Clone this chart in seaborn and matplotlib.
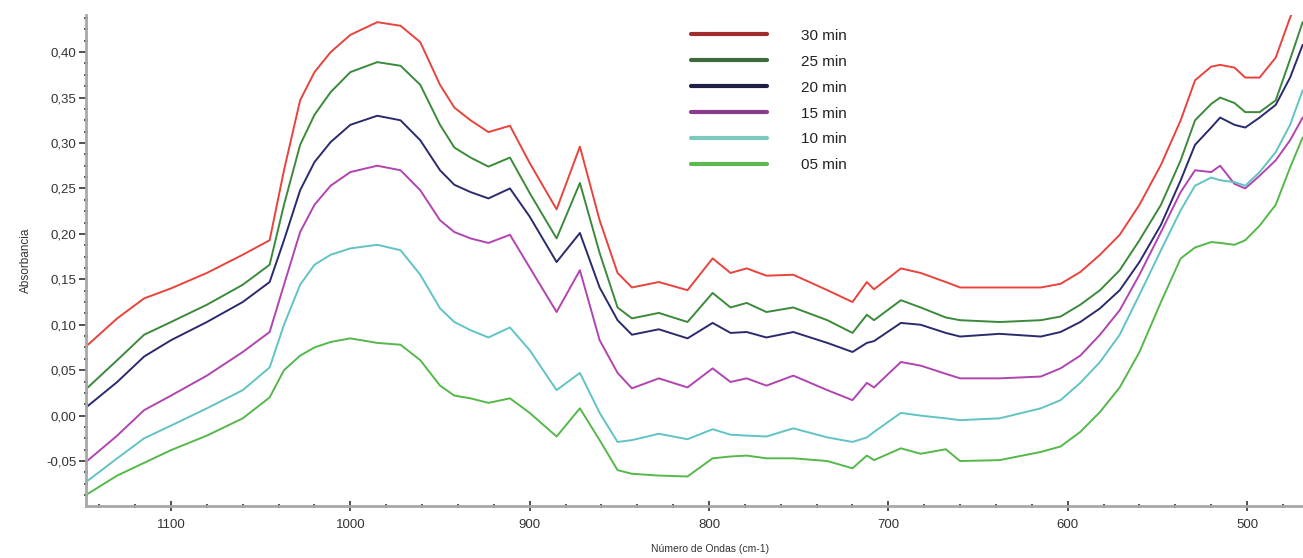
import matplotlib
matplotlib.use("Agg")
import matplotlib.pyplot as plt
from matplotlib.ticker import FuncFormatter, MultipleLocator
from matplotlib.lines import Line2D
import numpy as np
import pandas as pd
import seaborn as sns

# Wavenumbers (cm-1)
wavenumber = [1148, 1130, 1115, 1100, 1080, 1060, 1045, 1037, 1028, 1020, 1011, 1000, 985, 972, 961,
              950, 942, 933, 923, 911, 900, 885, 872, 861, 851, 843, 828, 812, 798, 788, 779, 768,
              753, 734, 720, 712, 708, 693, 682, 668, 660, 638, 615, 604, 593, 582, 571, 560, 548,
              537, 529, 520, 515, 507, 501, 493, 484, 476, 469]

abs_30 = [0.075, 0.107, 0.129, 0.140, 0.157, 0.177, 0.193, 0.270, 0.347, 0.378, 0.400, 0.419, 0.433,
          0.429, 0.411, 0.364, 0.339, 0.325, 0.312, 0.319, 0.278, 0.227, 0.296, 0.215, 0.157, 0.141,
          0.147, 0.138, 0.173, 0.157, 0.162, 0.154, 0.155, 0.138, 0.125, 0.147, 0.139, 0.162, 0.157,
          0.147, 0.141, 0.141, 0.141, 0.145, 0.158, 0.177, 0.199, 0.232, 0.276, 0.325, 0.369, 0.384,
          0.386, 0.383, 0.372, 0.372, 0.394, 0.438, 0.469]
abs_25 = [0.028, 0.061, 0.089, 0.103, 0.122, 0.144, 0.166, 0.232, 0.298, 0.331, 0.356, 0.378, 0.389,
          0.385, 0.364, 0.320, 0.295, 0.284, 0.274, 0.284, 0.245, 0.195, 0.256, 0.179, 0.119, 0.107,
          0.113, 0.103, 0.135, 0.119, 0.124, 0.114, 0.119, 0.105, 0.091, 0.111, 0.105, 0.127, 0.119,
          0.108, 0.105, 0.103, 0.105, 0.109, 0.122, 0.138, 0.160, 0.193, 0.232, 0.281, 0.325, 0.343,
          0.350, 0.344, 0.334, 0.334, 0.347, 0.392, 0.433]
abs_20 = [0.008, 0.037, 0.065, 0.083, 0.103, 0.125, 0.147, 0.193, 0.248, 0.279, 0.301, 0.320, 0.330,
          0.325, 0.303, 0.270, 0.254, 0.246, 0.239, 0.250, 0.219, 0.169, 0.201, 0.141, 0.105, 0.089,
          0.095, 0.085, 0.102, 0.091, 0.092, 0.086, 0.092, 0.080, 0.070, 0.080, 0.082, 0.102, 0.100,
          0.091, 0.087, 0.090, 0.087, 0.092, 0.103, 0.118, 0.138, 0.169, 0.210, 0.259, 0.298, 0.317,
          0.328, 0.320, 0.317, 0.328, 0.342, 0.372, 0.408]
abs_15 = [-0.052, -0.022, 0.006, 0.022, 0.044, 0.070, 0.092, 0.144, 0.202, 0.232, 0.253, 0.268, 0.275,
          0.270, 0.248, 0.215, 0.202, 0.195, 0.190, 0.199, 0.163, 0.114, 0.160, 0.083, 0.047, 0.030,
          0.041, 0.031, 0.052, 0.037, 0.041, 0.033, 0.044, 0.028, 0.017, 0.036, 0.031, 0.059, 0.055,
          0.046, 0.041, 0.041, 0.043, 0.052, 0.066, 0.089, 0.116, 0.155, 0.202, 0.246, 0.270, 0.268,
          0.275, 0.255, 0.250, 0.264, 0.281, 0.303, 0.328]
abs_10 = [-0.074, -0.047, -0.025, -0.011, 0.008, 0.028, 0.053, 0.100, 0.144, 0.166, 0.177, 0.184, 0.188,
          0.182, 0.155, 0.118, 0.103, 0.094, 0.086, 0.097, 0.072, 0.028, 0.047, 0.003, -0.029, -0.027,
          -0.020, -0.026, -0.015, -0.021, -0.022, -0.023, -0.014, -0.024, -0.029, -0.024, -0.018, 0.003,
          0.000, -0.003, -0.005, -0.003, 0.008, 0.017, 0.036, 0.059, 0.089, 0.133, 0.182, 0.226, 0.253,
          0.262, 0.259, 0.257, 0.253, 0.268, 0.290, 0.320, 0.358]
abs_05 = [-0.088, -0.066, -0.052, -0.038, -0.022, -0.003, 0.020, 0.050, 0.066, 0.075, 0.081, 0.085, 0.080,
          0.078, 0.061, 0.033, 0.022, 0.019, 0.014, 0.019, 0.003, -0.023, 0.008, -0.027, -0.060, -0.064,
          -0.066, -0.067, -0.047, -0.045, -0.044, -0.047, -0.047, -0.050, -0.058, -0.044, -0.049, -0.036,
          -0.042, -0.037, -0.050, -0.049, -0.040, -0.034, -0.018, 0.004, 0.031, 0.070, 0.125, 0.173,
          0.185, 0.191, 0.190, 0.188, 0.193, 0.209, 0.232, 0.273, 0.306]

labels = ["30 min", "25 min", "20 min", "15 min", "10 min", "05 min"]
series = [abs_30, abs_25, abs_20, abs_15, abs_10, abs_05]
line_colors = ["#e8433c", "#3b8a3b", "#2a2a6e", "#b044b0", "#62c3c3", "#55b84a"]
legend_colors = ["#a02c2c", "#3d6b3d", "#1f1f45", "#8c3a8c", "#7ec8c2", "#5cb84f"]

frames = [pd.DataFrame({"Numero": wavenumber, "Abs": s, "Tiempo": lab}) for lab, s in zip(labels, series)]
df = pd.concat(frames, ignore_index=True)

sns.set_style("ticks")
plt.rcParams["font.family"] = ["Liberation Sans", "DejaVu Sans"]

fig = plt.figure(figsize=(13.03, 5.58), dpi=100)
ax = fig.add_axes([0.066, 0.093, 0.934, 0.88])

sns.lineplot(data=df, x="Numero", y="Abs", hue="Tiempo", hue_order=labels,
             palette=dict(zip(labels, line_colors)), estimator=None, sort=True,
             linewidth=1.4, legend=False, ax=ax)

ax.set_xlim(1147.4, 468.8)
ax.set_ylim(-0.0996, 0.4408)

ax.xaxis.set_major_locator(MultipleLocator(100))
ax.xaxis.set_minor_locator(MultipleLocator(20))
ax.yaxis.set_major_locator(MultipleLocator(0.05))
ax.yaxis.set_minor_locator(MultipleLocator(0.0125))
ax.yaxis.set_major_formatter(FuncFormatter(lambda v, p: f"{v:.2f}".replace(".", ",").replace("-0,00", "0,00")))
ax.xaxis.set_major_formatter(FuncFormatter(lambda v, p: f"{v:.0f}"))

for side in ["top", "right"]:
    ax.spines[side].set_visible(False)
for side in ["left", "bottom"]:
    ax.spines[side].set_color("#a8a8a8")
    ax.spines[side].set_linewidth(2.0)

ax.tick_params(axis="y", which="major", direction="out", length=5, width=1.2, color="#333333",
               labelsize=9.5, labelcolor="#333333", pad=2)
ax.tick_params(axis="y", which="minor", direction="inout", length=3, width=1.2, color="#333333")
ax.tick_params(axis="x", which="major", direction="inout", length=7, width=1.2, color="#333333",
               labelsize=9.5, labelcolor="#333333", pad=6)
ax.tick_params(axis="x", which="minor", direction="inout", length=3, width=1.2, color="#333333")

ax.set_ylabel("Absorbancia", fontsize=8.5, color="#333333", labelpad=10)
ax.set_xlabel("")
fig.text(710 / 1303, 1 - 549 / 558, "Número de Ondas (cm-1)", fontsize=7.5, color="#333333",
         ha="center", va="center")

handles = [Line2D([0], [0], color=c, linewidth=3) for c in legend_colors]
leg = ax.legend(handles, labels, loc="upper left", bbox_to_anchor=(0.497, 0.972), frameon=False,
                fontsize=11, handlelength=5.0, handletextpad=2.2, labelspacing=0.78,
                borderaxespad=0, borderpad=0)
for t in leg.get_texts():
    t.set_color("#222222")

fig.savefig("out.png", dpi=100, facecolor="white")
